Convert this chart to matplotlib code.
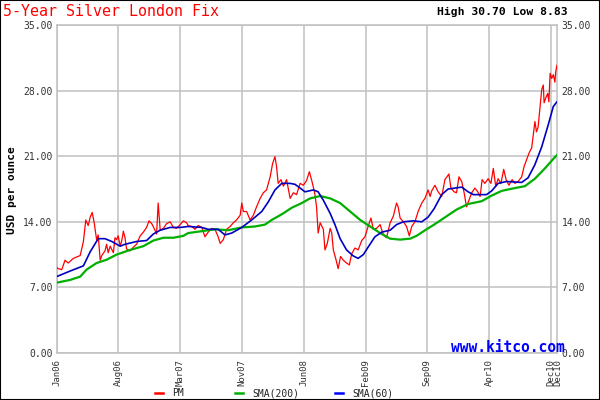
import matplotlib
matplotlib.use("Agg")
import matplotlib.pyplot as plt
import numpy as np

# x = trading session index from Jan 2006
pm_x = [0, 4, 13, 21, 29, 42, 59, 67, 73, 79, 84, 89, 94, 100, 104, 109, 113, 121, 125, 129,
        134, 142, 146, 150, 154, 159, 163, 167, 171, 175, 184, 192, 200, 209, 217, 225, 231, 238,
        246, 250, 254, 259, 267, 275, 284, 292, 300, 309, 317, 325, 329, 338, 346, 354, 363, 371,
        379, 388, 396, 404, 409, 417, 425, 434, 442, 450, 459, 463, 467, 475, 484, 492, 500, 509,
        517, 525, 534, 540, 546, 550, 554, 561, 567, 575, 584, 592, 600, 609, 617, 625, 632, 638,
        642, 646, 650, 654, 659, 667, 671, 677, 684, 688, 692, 699, 704, 710, 717, 725, 732, 738,
        746, 754, 763, 771, 779, 786, 792, 800, 809, 817, 825, 834, 842, 850, 854, 859, 867, 875,
        882, 888, 896, 904, 913, 921, 929, 934, 938, 946, 954, 963, 971, 981, 986, 994, 1000, 1006,
        1013, 1019, 1025, 1031, 1038, 1046, 1053, 1059, 1064, 1071, 1079, 1086, 1092, 1098, 1104,
        1111, 1118, 1124, 1131, 1139, 1146, 1154, 1163, 1169, 1175, 1181, 1188, 1192, 1196, 1200,
        1204, 1209, 1213, 1217, 1219, 1223, 1228, 1231, 1234, 1238, 1242, 1246, 1248, 1251]
pm = [9.15, 9.0, 8.9, 9.9, 9.6, 10.1, 10.4, 11.9, 14.2, 13.6, 14.5, 15.0, 13.9, 12.1, 12.6, 9.9,
      10.4, 10.9, 11.6, 10.7, 11.4, 10.7, 12.3, 12.1, 12.5, 11.4, 12.0, 13.0, 12.3, 11.1, 10.9,
      11.3, 11.6, 12.5, 12.9, 13.4, 14.1, 13.8, 13.1, 12.7, 16.0, 13.1, 13.3, 13.8, 14.0, 13.4,
      13.3, 13.7, 14.1, 13.9, 13.6, 13.5, 13.2, 13.6, 13.4, 12.4, 12.9, 13.3, 13.2, 12.4, 11.7,
      12.1, 13.2, 13.5, 13.9, 14.2, 14.7, 16.0, 15.1, 15.1, 14.2, 14.7, 15.6, 16.5, 17.1, 17.4,
      18.8, 20.2, 20.95, 19.9, 18.1, 18.5, 17.8, 18.5, 16.5, 17.1, 16.9, 18.1, 17.9, 18.4, 19.35,
      18.4, 17.7, 16.9, 15.6, 12.8, 13.9, 13.2, 11.0, 11.7, 13.3, 12.8, 11.0, 9.9, 9.0, 10.3, 9.9,
      9.6, 9.4, 10.6, 11.2, 11.0, 12.0, 12.4, 13.5, 14.4, 13.2, 13.3, 13.7, 12.6, 12.3, 13.9, 14.6,
      16.0, 15.6, 14.4, 14.0, 13.5, 12.5, 13.5, 14.0, 15.1, 16.0, 16.5, 17.4, 16.7, 17.3, 17.9,
      17.2, 16.7, 18.5, 19.1, 17.6, 17.2, 17.1, 18.8, 18.3, 17.1, 15.6, 16.3, 17.1, 17.6, 17.2,
      16.7, 18.5, 18.1, 18.6, 18.1, 19.7, 17.8, 18.6, 18.1, 19.6, 18.5, 17.9, 18.5, 18.1, 18.3,
      18.8, 19.9, 20.6, 21.3, 21.9, 23.3, 24.7, 23.6, 24.1, 26.3, 28.1, 28.6, 26.7, 27.2, 27.7,
      26.8, 29.85, 29.3, 29.7, 28.9, 30.0, 30.7]

sma200_x = [0, 34, 59, 75, 100, 125, 150, 184, 217, 242, 267, 292, 317, 329, 363, 396, 429, 463,
            496, 521, 538, 563, 588, 613, 634, 659, 684, 709, 734, 759, 784, 809, 834, 859, 884,
            900, 925, 944, 1000, 1029, 1063, 1088, 1113, 1146, 1171, 1196, 1221, 1246, 1251]
sma200 = [7.5, 7.8, 8.15, 8.9, 9.6, 9.95, 10.5, 11.0, 11.4, 12.0, 12.3, 12.3, 12.5, 12.8, 13.0,
          13.2, 13.1, 13.4, 13.5, 13.7, 14.2, 14.8, 15.5, 16.0, 16.5, 16.75, 16.5, 16.0, 15.1,
          14.2, 13.5, 12.8, 12.2, 12.1, 12.2, 12.5, 13.2, 13.7, 15.3, 15.9, 16.2, 16.8, 17.3,
          17.6, 17.8, 18.6, 19.7, 20.9, 21.1]

sma60_x = [0, 34, 67, 84, 104, 121, 138, 159, 171, 200, 225, 242, 259, 284, 309, 329, 363, 379,
           404, 421, 438, 463, 488, 513, 529, 546, 563, 584, 596, 609, 621, 642, 654, 667, 684,
           696, 709, 725, 742, 754, 767, 779, 796, 813, 834, 850, 867, 892, 913, 929, 944, 963,
           979, 1013, 1029, 1042, 1075, 1088, 1104, 1125, 1163, 1179, 1196, 1213, 1229, 1242, 1251]
sma60 = [8.15, 8.75, 9.3, 10.8, 12.2, 12.2, 11.9, 11.4, 11.6, 11.9, 12.0, 12.7, 13.1, 13.4, 13.4,
         13.5, 13.4, 13.2, 13.2, 12.6, 12.8, 13.4, 14.2, 15.1, 16.1, 17.4, 18.1, 18.1, 18.0, 17.6,
         17.2, 17.4, 17.2, 16.3, 14.9, 13.7, 12.2, 11.0, 10.35, 10.1, 10.5, 11.3, 12.4, 12.9, 13.1,
         13.7, 14.0, 14.1, 14.0, 14.5, 15.4, 16.9, 17.5, 17.7, 17.2, 16.9, 16.9, 17.3, 18.1, 18.3,
         18.2, 18.7, 20.1, 22.0, 24.3, 26.3, 26.8]

tick_labels = ["Jan06", "Aug06", "Mar07", "Nov07", "Jun08", "Feb09", "Sep09", "Apr10", "Dec10"]
tick_step = 154.5
y_ticks = [0, 7, 14, 21, 28, 35]

mono = "DejaVu Sans Mono"

fig = plt.figure(figsize=(6, 4), dpi=100)
fig.patch.set_facecolor("white")
ax = fig.add_axes([56.6 / 600, 47 / 400, 500.7 / 600, 328 / 400])

ax.plot(pm_x, pm, color="#ff0000", lw=0.9, zorder=3)
ax.plot(sma200_x, sma200, color="#00b000", lw=1.6, zorder=4)
ax.plot(sma60_x, sma60, color="#0000c0", lw=1.2, zorder=5)

ax.set_xlim(0, 1252)
ax.set_ylim(0, 35)
xt = [i * tick_step for i in range(len(tick_labels))]
ax.set_xticks(xt)
ax.set_xticklabels(tick_labels, rotation=90, family=mono, fontsize=6.5, color="#333333")
ax.set_yticks(y_ticks)
ax.set_yticklabels([f"{v:.2f}" for v in y_ticks], family=mono, fontsize=7, color="#333333")
ax.tick_params(axis="y", length=0, pad=3, right=True, labelright=True)
ax.tick_params(axis="x", length=0, pad=4.2)
# the source repeats the last date label, slightly shifted
ax.text(xt[-1] + 17, -0.62, tick_labels[-1], rotation=90, ha="center", va="top",
        family=mono, fontsize=6.5, color="#333333")
ax.grid(True, color="#c0c0c0", lw=1.1)
for s in ax.spines.values():
    s.set_color("#c0c0c0")
    s.set_linewidth(1.1)

fig.text(3 / 600, 1 - 12 / 400, "5-Year Silver London Fix", color="#ff0000", family=mono,
         fontsize=10.8, va="center", ha="left")
fig.text(568 / 600, 1 - 12 / 400, "High 30.70 Low 8.83", color="black", family=mono,
         fontsize=8.2, fontweight="bold", va="center", ha="right")
fig.text(12 / 600, 1 - 190 / 400, "USD per ounce", rotation=90, family=mono, fontsize=8,
         fontweight="bold", va="center", ha="center")
fig.text(565 / 600, 1 - 347 / 400, "www.kitco.com", color="#0000ff", family=mono,
         fontsize=10.5, fontweight="bold", va="center", ha="right")

# legend row
leg = [("PM", "#ff0000", 155), ("SMA(200)", "#00b000", 235), ("SMA(60)", "#0000ff", 335)]
for name, col, px in leg:
    fig.add_artist(plt.Line2D([px / 600, (px + 8) / 600], [1 - 393 / 400] * 2, color=col, lw=1.8))
    fig.text((px + 17) / 600, 1 - 393.5 / 400, name, family=mono, fontsize=7, va="center",
             ha="left", color="#222222")

fig.add_artist(plt.Rectangle((0, 0), 1, 1, transform=fig.transFigure, fill=False,
                             edgecolor="black", lw=1.5))

fig.savefig("out.png", dpi=100)
